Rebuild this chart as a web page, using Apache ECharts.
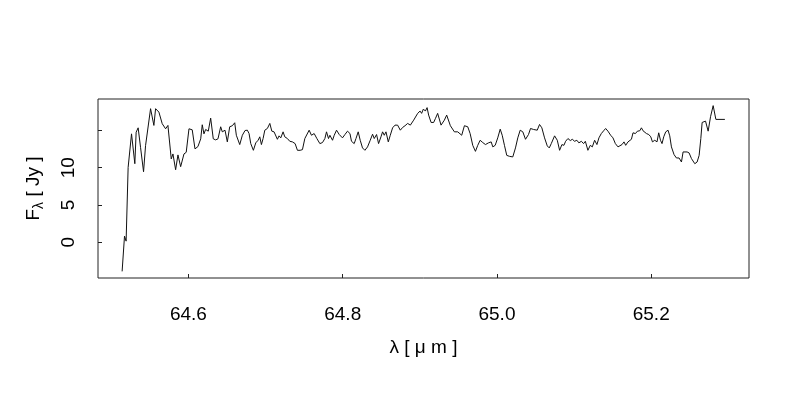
<!DOCTYPE html>
<html>
<head>
<meta charset="utf-8">
<script src="https://cdn.jsdelivr.net/npm/echarts@6/dist/echarts.min.js"></script>
<style>
html,body{margin:0;padding:0;background:#fff;}
#chart{width:800px;height:400px;}
</style>
</head>
<body>
<div id="chart"></div>
<script>
// Wavelength (micron) values
const wavelength = [
64.5140,64.5171,64.5192,64.5218,64.5262,64.5305,64.5322,64.5348,64.5379,64.5418,
64.5444,64.5465,64.5509,64.5552,64.5574,64.5617,64.5660,64.5704,64.5734,64.5777,
64.5799,64.5834,64.5864,64.5899,64.5920,64.5942,64.5971,64.6007,64.6049,64.6085,
64.6123,64.6159,64.6179,64.6201,64.6223,64.6257,64.6288,64.6322,64.6353,64.6383,
64.6418,64.6439,64.6474,64.6504,64.6535,64.6569,64.6600,64.6621,64.6665,64.6699,
64.6734,64.6764,64.6786,64.6808,64.6842,64.6873,64.6903,64.6925,64.6946,64.6968,
64.6990,64.7023,64.7055,64.7081,64.7110,64.7133,64.7153,64.7175,64.7197,64.7227,
64.7249,64.7283,64.7314,64.7348,64.7383,64.7413,64.7448,64.7478,64.7509,64.7530,
64.7565,64.7595,64.7630,64.7665,64.7704,64.7738,64.7769,64.7790,64.7816,64.7834,
64.7868,64.7890,64.7920,64.7955,64.7997,64.8029,64.8062,64.8094,64.8114,64.8149,
64.8172,64.8201,64.8227,64.8257,64.8288,64.8322,64.8357,64.8387,64.8409,64.8439,
64.8465,64.8496,64.8517,64.8539,64.8561,64.8591,64.8617,64.8647,64.8678,64.8712,
64.8747,64.8777,64.8808,64.8842,64.8877,64.8899,64.8920,64.8942,64.8972,64.9003,
64.9023,64.9046,64.9072,64.9094,64.9114,64.9146,64.9179,64.9201,64.9231,64.9275,
64.9318,64.9348,64.9396,64.9448,64.9491,64.9543,64.9578,64.9621,64.9652,64.9686,
64.9721,64.9751,64.9782,64.9816,64.9851,64.9890,64.9925,64.9946,64.9977,65.0010,
65.0042,65.0068,65.0097,65.0127,65.0162,65.0205,65.0240,65.0270,65.0301,65.0335,
65.0370,65.0409,65.0435,65.0474,65.0522,65.0552,65.0582,65.0617,65.0652,65.0678,
65.0704,65.0747,65.0782,65.0812,65.0842,65.0868,65.0890,65.0920,65.0951,65.0977,
65.1007,65.1036,65.1062,65.1094,65.1123,65.1146,65.1179,65.1210,65.1236,65.1266,
65.1296,65.1322,65.1353,65.1383,65.1409,65.1439,65.1474,65.1504,65.1535,65.1569,
65.1591,65.1621,65.1647,65.1669,65.1699,65.1721,65.1743,65.1764,65.1795,65.1821,
65.1851,65.1873,65.1894,65.1916,65.1938,65.1968,65.1994,65.2016,65.2046,65.2075,
65.2097,65.2120,65.2140,65.2162,65.2188,65.2218,65.2240,65.2262,65.2296,65.2327,
65.2361,65.2392,65.2413,65.2435,65.2465,65.2491,65.2522,65.2543,65.2565,65.2595,
65.2621,65.2643,65.2660,65.2682,65.2704,65.2738,65.2769,65.2803,65.2838,65.2955
];
// Flux density (Jy) values
const flux = [
-3.92,0.81,0.14,10.04,14.55,10.54,14.77,15.36,12.74,9.46,
12.97,13.11,17.93,15.68,17.93,17.47,15.91,15.23,15.68,11.18,
11.85,9.73,11.72,10.14,10.14,11.85,12.07,15.23,15.09,12.53,
12.84,13.88,15.77,14.55,15.14,14.91,16.66,13.88,13.74,13.88,
15.50,14.82,15.04,13.47,15.50,15.64,16.04,14.36,13.11,14.36,
15.00,15.04,14.59,13.24,12.34,13.34,13.69,14.15,13.11,13.92,
15.04,15.27,15.95,14.91,14.82,15.04,13.82,14.28,14.01,14.82,
14.15,13.92,13.55,13.47,13.24,12.34,12.34,12.43,13.92,14.01,
15.04,14.36,14.59,13.92,13.24,13.38,13.92,14.82,13.92,14.36,
13.69,14.36,15.04,14.46,14.01,14.46,14.91,14.59,13.55,13.24,
13.92,14.82,13.69,12.66,12.34,12.80,13.69,14.50,13.92,14.46,
13.24,14.15,14.82,14.36,14.82,13.47,14.36,15.36,15.72,15.72,
15.04,15.41,15.64,15.95,15.72,15.81,16.39,16.62,17.30,17.61,
17.30,17.88,17.61,18.07,17.07,16.08,16.08,16.58,17.30,15.72,
16.39,17.07,15.64,14.82,14.82,14.36,15.64,15.50,14.59,13.01,
12.20,13.01,13.69,13.38,13.11,13.34,13.47,12.80,13.01,14.01,
15.18,14.36,13.01,11.66,11.53,11.45,12.66,14.01,15.04,14.82,
13.82,14.46,15.27,15.14,15.04,15.81,15.36,14.01,12.93,12.66,
13.24,14.28,13.69,12.34,13.11,13.01,13.55,13.92,13.65,13.82,
13.55,13.69,13.34,13.55,13.24,13.55,12.34,13.01,12.80,13.69,
13.11,14.01,14.59,14.96,15.27,14.91,14.36,14.01,13.24,12.80,
12.57,13.11,13.47,13.01,13.47,13.24,13.82,14.69,14.59,14.91,
14.96,15.36,14.96,15.04,14.59,14.46,14.15,13.47,13.69,13.47,
14.69,13.69,13.24,14.15,14.82,15.04,14.28,12.80,11.76,11.31,
11.31,10.77,12.12,12.20,12.12,11.99,11.22,11.31,10.54,10.77,
11.66,13.92,16.08,15.95,16.26,14.91,16.85,18.34,16.49,16.49
];
const xTickValues = [64.6, 64.8, 65.0, 65.2];
const xTickLabels = ['64.6', '64.8', '65.0', '65.2'];
const yTickValues = [0, 5, 10, 15];
const yLabelValues = [0, 5, 10];

const xMinD = Math.min(...wavelength), xMaxD = Math.max(...wavelength);
const yMinD = Math.min(...flux), yMaxD = Math.max(...flux);
const xPad = 0.04 * (xMaxD - xMinD), yPad = 0.04 * (yMaxD - yMinD);

const pts = wavelength.map((w, i) => [w, flux[i]]);
const FONT = 'Liberation Sans, Arial, sans-serif';

const chart = echarts.init(document.getElementById('chart'), null, {renderer: 'canvas'});
chart.setOption({
  animation: false,
  backgroundColor: '#fff',
  grid: {left: 98, right: 51, top: 99, bottom: 122, show: true, borderColor: '#222', borderWidth: 1, backgroundColor: 'transparent'},
  xAxis: {
    type: 'value',
    min: xMinD - xPad, max: xMaxD + xPad,
    axisLine: {show: false, onZero: false},
    splitLine: {show: false},
    axisTick: {show: true, inside: true, length: 4, lineStyle: {color: '#222'}, customValues: xTickValues},
    axisLabel: {
      customValues: xTickValues,
      formatter: v => { const i = xTickValues.findIndex(t => Math.abs(t - v) < 1e-9); return i >= 0 ? xTickLabels[i] : ''; },
      margin: 27, fontSize: 19, color: '#000', fontFamily: FONT
    },
    name: 'λ [ μ m ]',
    nameLocation: 'middle', nameGap: 60,
    nameTextStyle: {fontSize: 19, color: '#000', fontFamily: FONT}
  },
  yAxis: {
    type: 'value',
    min: yMinD - yPad, max: yMaxD + yPad,
    axisLine: {show: false, onZero: false},
    splitLine: {show: false},
    axisTick: {show: true, inside: true, length: 4, lineStyle: {color: '#222'}, customValues: yTickValues},
    axisLabel: {
      customValues: yLabelValues,
      formatter: v => String(v),
      rotate: 90, margin: 20, fontSize: 19, color: '#000', fontFamily: FONT
    },
    name: 'F{sub|λ} [ Jy ]',
    nameLocation: 'middle', nameRotate: 90, nameGap: 52,
    nameTextStyle: {
      fontSize: 19, color: '#000', fontFamily: FONT,
      rich: {sub: {fontSize: 14, color: '#000', fontFamily: FONT, padding: [10, 0, 0, 0]}}
    }
  },
  series: [{
    type: 'line',
    data: pts,
    showSymbol: false,
    symbol: 'none',
    lineStyle: {color: '#111', width: 1},
    silent: true
  }]
});
</script>
</body>
</html>
